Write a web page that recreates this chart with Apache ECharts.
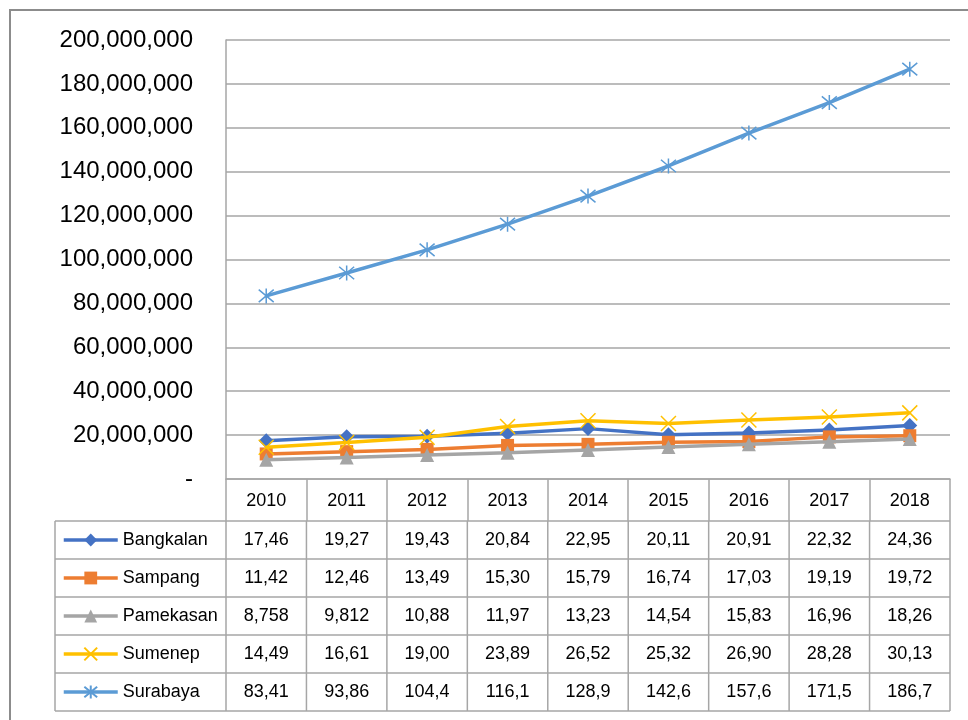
<!DOCTYPE html>
<html>
<head>
<meta charset="utf-8">
<script src="https://cdn.jsdelivr.net/npm/echarts@6/dist/echarts.min.js"></script>
<style>html,body{margin:0;padding:0;background:#fff;}#c{width:968px;height:720px;}</style>
</head>
<body>
<div id="c"></div>
<script>
const years = ['2010','2011','2012','2013','2014','2015','2016','2017','2018'];
const seriesNames = ['Bangkalan','Sampang','Pamekasan','Sumenep','Surabaya'];
const bangkalan = [17.46, 19.27, 19.43, 20.84, 22.95, 20.11, 20.91, 22.32, 24.36];
const sampang   = [11.42, 12.46, 13.49, 15.30, 15.79, 16.74, 17.03, 19.19, 19.72];
const pamekasan = [8.758, 9.812, 10.88, 11.97, 13.23, 14.54, 15.83, 16.96, 18.26];
const sumenep   = [14.49, 16.61, 19.00, 23.89, 26.52, 25.32, 26.90, 28.28, 30.13];
const surabaya  = [83.41, 93.86, 104.4, 116.1, 128.9, 142.6, 157.6, 171.5, 186.7];
const yTicks = [0, 20e6, 40e6, 60e6, 80e6, 100e6, 120e6, 140e6, 160e6, 180e6, 200e6];

const allValues = [bangkalan, sampang, pamekasan, sumenep, surabaya];
const colors = ['#4472C4', '#ED7D31', '#A5A5A5', '#FFC000', '#5B9BD5'];
const gridColor = '#A6A6A6';
const FONT = 'Liberation Sans';

const toUnits = arr => arr.map(v => Math.round(v * 1e6));
const cellText = v => Math.round(v * 1e6).toLocaleString('en-US').slice(0, 5);

const symbols = [
  {symbol: 'diamond', size: 15, filled: true},
  {symbol: 'rect', size: 13, filled: true},
  {symbol: 'triangle', size: 14, filled: true},
  {symbol: 'path://M0,0L10,10M10,0L0,10', size: 15, filled: false},
  {symbol: 'path://M0,0L10,10M10,0L0,10M5,-1L5,11', size: 15, filled: false}
];

const chart = echarts.init(document.getElementById('c'), null, {renderer: 'canvas'});

const series = seriesNames.map((name, i) => ({
  name: name,
  type: 'line',
  data: toUnits(allValues[i]),
  symbol: symbols[i].symbol,
  symbolSize: symbols[i].size,
  showAllSymbol: true,
  lineStyle: {color: colors[i], width: 3.5},
  itemStyle: symbols[i].filled
    ? {color: colors[i]}
    : {color: 'rgba(0,0,0,0)', borderColor: colors[i], borderWidth: 1.5},
  emphasis: {disabled: true},
  animation: false,
  z: 3 + i
}));

chart.setOption({
  animation: false,
  textStyle: {fontFamily: FONT},
  grid: {left: 226, right: 18, top: 40, bottom: 241, containLabel: false},
  xAxis: {
    type: 'category',
    data: years,
    boundaryGap: true,
    axisLine: {show: true, lineStyle: {color: gridColor, width: 1.5}},
    axisTick: {show: true, length: 42, interval: 0, lineStyle: {color: gridColor, width: 1.5}},
    axisLabel: {margin: 13, fontSize: 18, color: '#000', fontFamily: FONT, interval: 0}
  },
  yAxis: {
    type: 'value',
    min: yTicks[0],
    max: yTicks[yTicks.length - 1],
    interval: yTicks[1] - yTicks[0],
    axisLine: {show: true, lineStyle: {color: gridColor, width: 1.5}},
    axisTick: {show: false},
    splitLine: {show: true, lineStyle: {color: gridColor, width: 1.5}},
    axisLabel: {
      margin: 33, fontSize: 24, color: '#000', fontFamily: FONT,
      formatter: v => v === 0 ? '-' : v.toLocaleString('en-US')
    }
  },
  legend: {
    orient: 'vertical',
    left: 62,
    top: 530,
    padding: 0,
    itemWidth: 54,
    itemHeight: 16,
    itemGap: 18,
    data: seriesNames,
    lineStyle: {width: 3.5},
    textStyle: {fontSize: 18, color: '#000', fontFamily: FONT, lineHeight: 20},
    selectedMode: false
  },
  series: series
});

// ---- data table body drawn from the category axis positions ----
const c0 = chart.convertToPixel({xAxisIndex: 0}, 0);
const c1 = chart.convertToPixel({xAxisIndex: 0}, 1);
const band = c1 - c0;
const plotLeft = c0 - band / 2;
const plotRight = plotLeft + band * years.length;
const yBase = chart.convertToPixel({yAxisIndex: 0}, 0);
const headerH = 42;
const rowH = 38;
const tableLeft = 55;
const bodyTop = yBase + headerH;
const lineStyle = {stroke: gridColor, lineWidth: 1.5};
const elements = [];

// outer chart border
elements.push({type: 'rect', shape: {x: 10, y: 10, width: 980, height: 730},
  style: {fill: 'none', stroke: '#8C8C8C', lineWidth: 2}, silent: true, z: 0});

for (let r = 0; r <= seriesNames.length; r++) {
  const y = bodyTop + r * rowH;
  elements.push({type: 'line', shape: {x1: tableLeft, y1: y, x2: plotRight, y2: y}, style: lineStyle, silent: true});
}
const vx = [tableLeft, plotLeft];
for (let k = 1; k <= years.length; k++) vx.push(plotLeft + k * band);
vx.forEach(x => {
  elements.push({type: 'line', shape: {x1: x, y1: bodyTop, x2: x, y2: bodyTop + rowH * seriesNames.length}, style: lineStyle, silent: true});
});
allValues.forEach((vals, r) => {
  vals.forEach((v, k) => {
    elements.push({
      type: 'text', silent: true,
      x: chart.convertToPixel({xAxisIndex: 0}, k),
      y: bodyTop + r * rowH + rowH / 2,
      style: {text: cellText(v), fontSize: 18, fontFamily: FONT, fill: '#000', align: 'center', verticalAlign: 'middle'}
    });
  });
});
chart.setOption({graphic: {elements: elements}});
</script>
</body>
</html>
